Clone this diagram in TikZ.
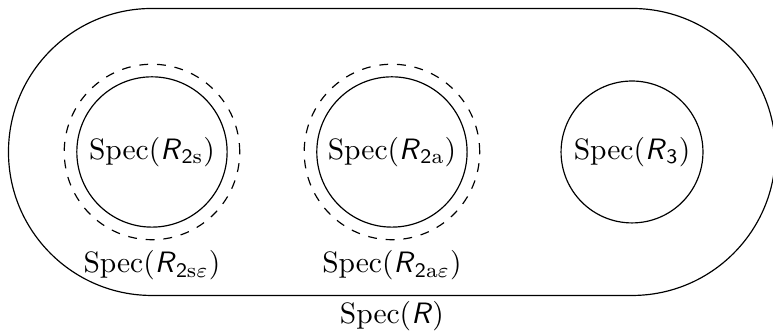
\documentclass[tikz,border=0pt]{standalone}
\usepackage{amsmath}
\usetikzlibrary{positioning}

\newcommand{\Spec}{\operatorname{Spec}}
\newcommand{\sfR}{\textsf{\textit{R}}}

\begin{document}
\begin{tikzpicture}[
  ring/.style={circle,draw,inner sep=0pt,minimum size=1.79cm},
  nbhd/.style={circle,draw,dashed,inner sep=0pt,minimum size=2.09cm}
]
  \useasboundingbox (-1.81,-2.168) rectangle (7.396,1.81);

  % the whole spectrum
  \draw (0,1.709) -- (5.717,1.709) arc[start angle=90,end angle=-90,radius=1.709]
        -- (0,-1.709) arc[start angle=270,end angle=90,radius=1.709];
  \node (labR) at (2.858,-1.959) {$\Spec(\sfR)$};

  \node[ring] (s2s) at (0,0)     {$\Spec(\sfR_{\textsf{2}\mathrm{s}})$};
  \node[ring] (s2a) at (2.858,0) {$\Spec(\sfR_{\textsf{2}\mathrm{a}})$};
  \node[ring,minimum size=1.69cm] (s3) at (5.717,0) {$\Spec(\sfR_{\textsf{3}})$};

  \node[nbhd] (e2s) at (0,0)     {};
  \node[nbhd] (e2a) at (2.858,0) {};

  \node[below=0pt of e2s] (lab2s) {$\Spec(\sfR_{\textsf{2}\mathrm{s}\varepsilon})$};
  \node[below=0pt of e2a] (lab2a) {$\Spec(\sfR_{\textsf{2}\mathrm{a}\varepsilon})$};
\end{tikzpicture}
\end{document}
